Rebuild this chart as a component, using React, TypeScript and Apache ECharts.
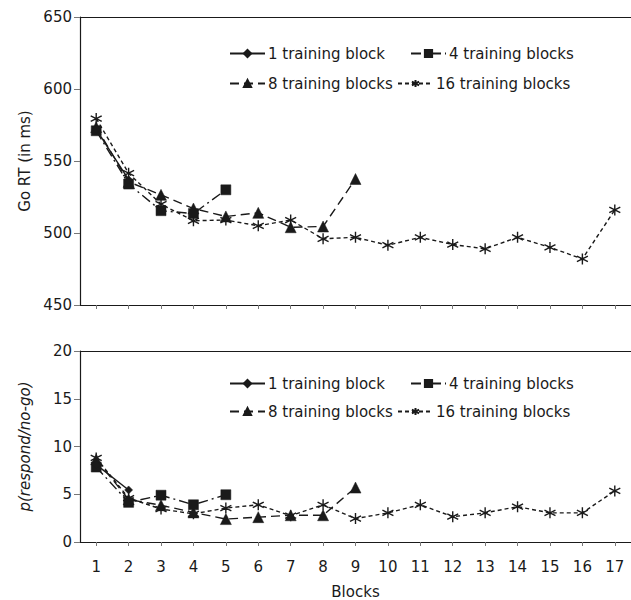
import React, { useEffect, useRef } from "react";
import * as echarts from "echarts";

const blocks = ["1","2","3","4","5","6","7","8","9","10","11","12","13","14","15","16","17"];
const seriesNames = ["1 training block", "4 training blocks", "8 training blocks", "16 training blocks"];

const oneRT = [572, 537];
const fourRT = [571, 534, 515.5, 513.5, 530];
const eightRT = [573.5, 535.5, 526.5, 517, 511.5, 514, 504, 504.5, 537.5];
const sixteenRT = [579.5, 541.5, 520, 508.5, 509, 505, 509, 496, 497, 491.5, 497, 492, 489, 497, 490, 482, 516];

const oneP = [8.1, 5.45];
const fourP = [7.85, 4.15, 4.9, 3.9, 4.95];
const eightP = [8.65, 4.45, 3.85, 3.1, 2.4, 2.6, 2.8, 2.8, 5.7];
const sixteenP = [8.8, 4.6, 3.45, 2.95, 3.55, 3.9, 2.75, 3.9, 2.45, 3.05, 3.9, 2.65, 3.05, 3.7, 3.05, 3.05, 5.35];

const INK = "#1a1a1a";
const FONT = "DejaVu Sans, Liberation Sans, Arial, sans-serif";
const FS = 15;
const ASTERISK = "path://M5,0L5,10M0.7,2.5L9.3,7.5M0.7,7.5L9.3,2.5";

const styles = [
  { symbol: "diamond", symbolSize: 8, dash: "solid" as any },
  { symbol: "rect", symbolSize: 10, dash: [10, 4, 2, 4] },
  { symbol: "triangle", symbolSize: 11, dash: [9, 5] },
  { symbol: ASTERISK, symbolSize: 11, dash: [4, 3] },
];

function makeSeries(idx: number, data: number[], grid: number) {
  const s = styles[idx];
  return {
    name: seriesNames[idx],
    type: "line",
    xAxisIndex: grid,
    yAxisIndex: grid,
    data,
    symbol: s.symbol,
    symbolSize: s.symbolSize,
    showAllSymbol: true,
    lineStyle: { color: INK, width: 1.4, type: s.dash },
    itemStyle: { color: INK, borderColor: INK, borderWidth: idx === 3 ? 1.4 : 0.5 },
    emphasis: { disabled: true },
    z: 10 - idx,
  };
}

function makeLegend(idx: number, left: number, top: number) {
  return {
    data: [seriesNames[idx]],
    left,
    top,
    orient: "horizontal",
    itemWidth: 35,
    itemHeight: 9,
    itemGap: 0,
    padding: 0,
    selectedMode: false,
    textStyle: { fontSize: FS, color: INK, fontFamily: FONT, padding: [0, 0, 0, -2] },
  };
}

export default function App() {
  const ref = useRef<HTMLDivElement>(null);
  useEffect(() => {
    if (!ref.current) return;
    const chart = echarts.init(ref.current, null, { renderer: "svg" });
    const axisCommon = {
      axisLine: { show: true, lineStyle: { color: INK, width: 1.2 } },
      axisTick: { show: true, inside: false, length: 6, lineStyle: { color: "#777", width: 1 } },
      splitLine: { show: false },
    };
    const topBorder = (gridIndex: number) => ({
      type: "category",
      gridIndex,
      position: "top",
      data: blocks,
      axisLine: { show: true, onZero: false, lineStyle: { color: INK, width: 1.2 } },
      axisTick: { show: false },
      axisLabel: { show: false },
      splitLine: { show: false },
    });
    chart.setOption({
      animation: false,
      backgroundColor: "#fff",
      textStyle: { fontFamily: FONT },
      grid: [
        { left: 80, width: 554, top: 17, height: 288 },
        { left: 80, width: 554, top: 351, height: 192 },
      ],
      legend: [
        makeLegend(0, 229, 46),
        makeLegend(1, 410, 46),
        makeLegend(2, 229, 76),
        makeLegend(3, 397, 76),
        makeLegend(0, 229, 376),
        makeLegend(1, 410, 376),
        makeLegend(2, 229, 404),
        makeLegend(3, 397, 404),
      ],
      xAxis: [
        {
          type: "category",
          gridIndex: 0,
          data: blocks,
          boundaryGap: true,
          ...axisCommon,
          axisTick: { ...axisCommon.axisTick, alignWithLabel: true, interval: 0, length: 4 },
          axisLabel: { show: false },
        },
        {
          type: "category",
          gridIndex: 1,
          data: blocks,
          boundaryGap: true,
          ...axisCommon,
          axisTick: { ...axisCommon.axisTick, alignWithLabel: true, interval: 0, length: 4 },
          axisLabel: { show: true, interval: 0, margin: 17, fontSize: FS, color: INK, fontFamily: FONT },
          name: "Blocks",
          nameLocation: "middle",
          nameGap: 42,
          nameTextStyle: { fontSize: FS, color: INK, fontFamily: FONT },
        },
        topBorder(0),
        topBorder(1),
      ],
      yAxis: [
        {
          type: "value",
          gridIndex: 0,
          min: 450,
          max: 650,
          interval: 50,
          ...axisCommon,
          axisLabel: { margin: 8, fontSize: FS, color: INK, fontFamily: FONT },
          name: "Go RT (in ms)",
          nameLocation: "middle",
          nameGap: 48,
          nameRotate: 90,
          nameTextStyle: { fontSize: FS, color: INK, fontFamily: FONT },
        },
        {
          type: "value",
          gridIndex: 1,
          min: 0,
          max: 20,
          interval: 5,
          ...axisCommon,
          axisLabel: { margin: 8, fontSize: FS, color: INK, fontFamily: FONT },
          name: "p(respond/no-go)",
          nameLocation: "middle",
          nameGap: 48,
          nameRotate: 90,
          nameTextStyle: { fontSize: FS, color: INK, fontFamily: FONT, fontStyle: "italic" },
        },
      ],
      series: [
        makeSeries(0, oneRT, 0),
        makeSeries(1, fourRT, 0),
        makeSeries(2, eightRT, 0),
        makeSeries(3, sixteenRT, 0),
        makeSeries(0, oneP, 1),
        makeSeries(1, fourP, 1),
        makeSeries(2, eightP, 1),
        makeSeries(3, sixteenP, 1),
      ],
    });
    return () => chart.dispose();
  }, []);
  return (
    <div
      ref={ref}
      style={{ position: "absolute", left: 0, top: 0, width: 631, height: 600, background: "#fff" }}
    />
  );
}
